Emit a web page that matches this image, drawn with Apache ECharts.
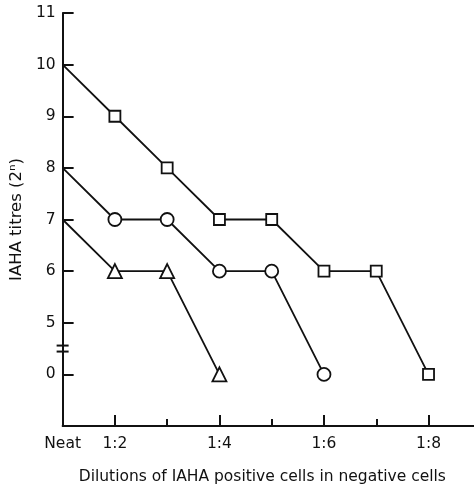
<!DOCTYPE html>
<html>
<head>
<meta charset="utf-8">
<script src="https://cdn.jsdelivr.net/npm/echarts@6/dist/echarts.min.js"></script>
<style>
  html, body { margin: 0; padding: 0; background: #fff; }
  #chart { width: 474px; height: 490px; }
</style>
</head>
<body>
<div id="chart"></div>
<script>
// dilution steps: 0 = Neat, 1 = 1:2, 2 = 1:3 ... 7 = 1:8
const dilutionSteps = [0, 1, 2, 3, 4, 5, 6, 7];
const tickLabels = { 0: "Neat", 1: "1:2", 3: "1:4", 5: "1:6", 7: "1:8" };

// IAHA titres (2^n)
const squareTitres = [10, 9, 8, 7, 7, 6, 6, 0];
const circleTitres = [8, 7, 7, 6, 6, 0];
const triangleTitres = [7, 6, 6, 0];

const yTicks = [0, 5, 6, 7, 8, 9, 10, 11];

// the axis is broken between 0 and 5: 0 is drawn one step under 5
const toAxis = (v) => (v === 0 ? 4 : v);

function buildData(titres) {
  return titres.map((v, i) => ({
    value: [dilutionSteps[i], toAxis(v)],
    symbol: i === 0 ? "none" : undefined,
  }));
}

const font = "DejaVu Sans";
const ink = "#111";

function serie(titres, symbol, size) {
  return {
    type: "line",
    data: buildData(titres),
    symbol: symbol,
    symbolSize: size,
    showSymbol: true,
    lineStyle: { color: ink, width: 1.8 },
    itemStyle: { color: "#fff", borderColor: ink, borderWidth: 1.8 },
    z: 3,
    animation: false,
  };
}

const chart = echarts.init(document.getElementById("chart"));

const option = {
  backgroundColor: "#fff",
  animation: false,
  grid: { left: 62, right: 0, top: 13, bottom: 63 },
  xAxis: [
    {
      type: "value",
      min: 0,
      max: 7.87,
      interval: 1,
      splitLine: { show: false },
      axisLine: { lineStyle: { color: ink, width: 2 } },
      axisTick: {
        inside: true,
        length: 11,
        customValues: [1, 3, 5, 7],
        lineStyle: { color: ink, width: 2 },
      },
      axisLabel: {
        customValues: [0, 1, 3, 5, 7],
        formatter: (v) => tickLabels[v] || "",
        color: ink,
        fontFamily: font,
        fontSize: 15.5,
        margin: 10,
      },
      name: "Dilutions of IAHA positive cells in negative cells",
      nameLocation: "middle",
      nameGap: 43,
      nameTextStyle: { color: ink, fontFamily: font, fontSize: 15.5, padding: [0, 12, 0, 0] },
    },
    {
      type: "value",
      min: 0,
      max: 7.87,
      interval: 1,
      position: "bottom",
      splitLine: { show: false },
      axisLine: { show: false },
      axisTick: {
        inside: true,
        length: 7,
        customValues: [2, 4, 6],
        lineStyle: { color: ink, width: 2 },
      },
      axisLabel: { show: false },
    },
  ],
  yAxis: {
    type: "value",
    min: 3,
    max: 11,
    interval: 1,
    splitLine: { show: false },
    axisLine: { show: true, lineStyle: { color: ink, width: 2 } },
    axisTick: {
      inside: true,
      length: 11,
      customValues: yTicks.map(toAxis),
      lineStyle: { color: ink, width: 2 },
    },
    axisLabel: {
      customValues: yTicks.map(toAxis),
      formatter: (v) => (v === 4 ? "0" : String(v)),
      color: ink,
      fontFamily: font,
      fontSize: 15.5,
      margin: 7,
    },
    name: "IAHA titres (2ⁿ)",
    nameLocation: "middle",
    nameGap: 36,
    nameTextStyle: { color: ink, fontFamily: font, fontSize: 16.5 },
  },
  series: [
    serie(squareTitres, "rect", 11),
    serie(circleTitres, "circle", 13),
    serie(triangleTitres, "triangle", 14),
  ],
};

chart.setOption(option);

// break marks on the y axis between 0 and 5
const bx = chart.convertToPixel({ xAxisIndex: 0 }, 0);
const by = chart.convertToPixel({ yAxisIndex: 0 }, 4.5);
chart.setOption({
  graphic: [-3, 3].map((d) => ({
    type: "line",
    shape: { x1: bx - 6, y1: by + d, x2: bx + 6, y2: by + d },
    style: { stroke: ink, lineWidth: 2 },
    z: 10,
  })),
});
</script>
</body>
</html>
